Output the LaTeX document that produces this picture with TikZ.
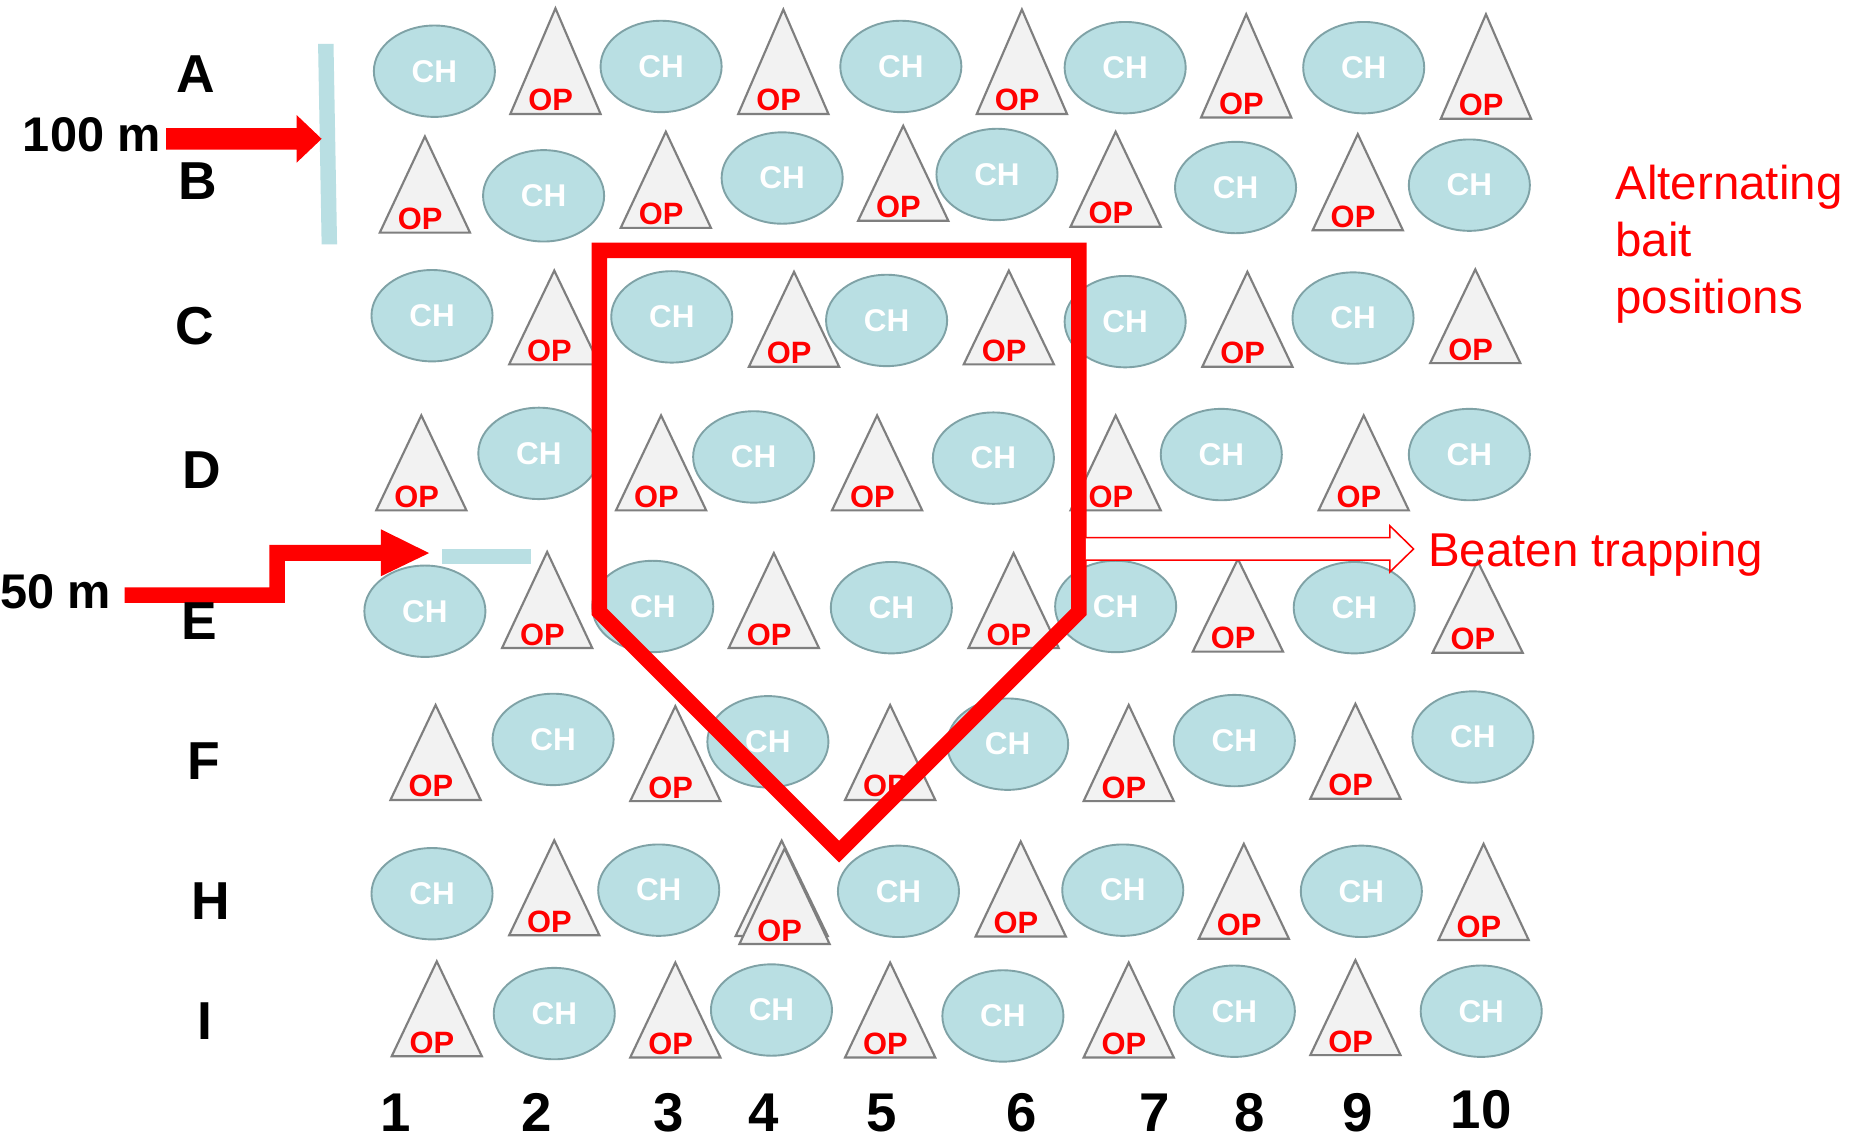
\documentclass[tikz,border=0pt]{standalone}
\usepackage{fontspec}
\setmainfont{Liberation Sans}
\usetikzlibrary{shapes.geometric}

\definecolor{chfill}{HTML}{B9DFE3}
\definecolor{chline}{HTML}{7FA2A6}
\definecolor{opfill}{HTML}{F2F2F2}
\definecolor{opline}{HTML}{7F7F7F}
\definecolor{trapred}{HTML}{FF0000}

\newcommand{\chfont}{\fontsize{26.5}{30}\selectfont\bfseries}
\newcommand{\opfont}{\fontsize{26}{28}\selectfont\bfseries}
\newcommand{\labfont}{\fontsize{45}{50}\selectfont\bfseries}
\newcommand{\numfont}{\fontsize{46}{50}\selectfont\bfseries}
\newcommand{\distfont}{\fontsize{41}{46}\selectfont\bfseries}
\newcommand{\notefont}{\fontsize{40}{48}\selectfont}

\tikzset{
  chbait/.style={ellipse, draw=chline, fill=chfill, line width=1.6pt,
    minimum width=102pt, minimum height=77pt, inner sep=0pt,
    text=white, font=\chfont},
  optri/.style={draw=opline, fill=opfill, line width=1.8pt, line join=miter},
  oplabel/.style={text=trapred, font=\opfont, anchor=base, inner sep=0pt},
  rowlab/.style={font=\labfont, text=black, anchor=base, inner sep=0pt},
  collab/.style={font=\numfont, text=black, anchor=base, inner sep=0pt},
  distlab/.style={font=\distfont, text=black, anchor=base, inner sep=0pt},
  note/.style={font=\notefont, text=trapred, anchor=base west, inner sep=0pt},
  trapline/.style={draw=trapred, line width=13pt, line join=miter},
  bar/.style={fill=chfill},
  bigarrow/.style={fill=trapred},
  hollowarrow/.style={draw=trapred, fill=white, line width=1.3pt, line join=miter}
}

% CH bait: ellipse centred at (x,y)
\newcommand{\CHbait}[3]{\node[chbait] (#1) at (#2,#3) {CH};}
% OP bait: triangle with apex x, apex y, base y; label sits on the base
\newcommand{\OPbait}[4]{%
  \draw[optri] (#2,#3) -- (#2+38,#4) -- (#2-38,#4) -- cycle;
  \node[oplabel] (#1) at (#2-4,#4-2.5) {OP};}

\begin{document}
\begin{tikzpicture}[x=1pt, y=-1pt]
\fill[white] (0,0) rectangle (1568,957);
\useasboundingbox (0,0) rectangle (1568,957);

% row A
\CHbait{chA1}{366}{60}
\OPbait{opA2}{468}{7}{96}
\CHbait{chA3}{557}{56}
\OPbait{opA4}{660}{8}{96}
\CHbait{chA5}{759}{56}
\OPbait{opA6}{861}{8}{96}
\CHbait{chA7}{948}{57}
\OPbait{opA8}{1050}{12}{99}
\CHbait{chA9}{1149}{57}
\OPbait{opA10}{1252}{12}{100}

% row B
\OPbait{opB1}{358}{115}{196}
\CHbait{chB2}{458}{165}
\OPbait{opB3}{561}{111}{192}
\CHbait{chB4}{659}{150}
\OPbait{opB5}{761}{106}{186}
\CHbait{chB6}{840}{147}
\OPbait{opB7}{940}{111}{191}
\CHbait{chB8}{1041}{158}
\OPbait{opB9}{1144}{113}{194}
\CHbait{chB10}{1238}{156}

% row C
\CHbait{chC1}{364}{266}
\OPbait{opC2}{467}{228}{307}
\CHbait{chC3}{566}{267}
\OPbait{opC4}{669}{229}{309}
\CHbait{chC5}{747}{270}
\OPbait{opC6}{850}{228}{307}
\CHbait{chC7}{948}{271}
\OPbait{opC8}{1051}{229}{309}
\CHbait{chC9}{1140}{268}
\OPbait{opC10}{1243}{227}{306}

% row D
\OPbait{opD1}{355}{350}{430}
\CHbait{chD2}{454}{382}
\OPbait{opD3}{557}{350}{430}
\CHbait{chD4}{635}{385}
\OPbait{opD5}{739}{350}{430}
\CHbait{chD6}{837}{386}
\OPbait{opD7}{940}{350}{430}
\CHbait{chD8}{1029}{383}
\OPbait{opD9}{1149}{350}{430}
\CHbait{chD10}{1238}{383}

% row E
\CHbait{chE1}{358}{515}
\OPbait{opE2}{461}{465}{546}
\CHbait{chE3}{550}{511}
\OPbait{opE4}{652}{466}{546}
\CHbait{chE5}{751}{512}
\OPbait{opE6}{854}{466}{546}
\CHbait{chE7}{940}{511}
\OPbait{opE8}{1043}{471}{549}
\CHbait{chE9}{1141}{512}
\OPbait{opE10}{1245}{473}{550}

% row F
\OPbait{opF1}{367}{594}{674}
\CHbait{chF2}{466}{623}
\OPbait{opF3}{569}{595}{675}
\CHbait{chF4}{647}{625}
\OPbait{opF5}{750}{594}{674}
\CHbait{chF6}{849}{627}
\OPbait{opF7}{951}{594}{675}
\CHbait{chF8}{1040}{624}
\OPbait{opF9}{1142}{593}{673}
\CHbait{chF10}{1241}{621}

% row H
\CHbait{chH1}{364}{753}
\OPbait{opH2}{467}{708}{788}
\CHbait{chH3}{555}{750}
\draw[optri] (658.6,708.3) -- (697.4,788.6) -- (619.8,788.6) -- cycle;
\OPbait{opH4}{661}{715}{795.4}
\CHbait{chH5}{757}{751}
\OPbait{opH6}{860}{709}{789}
\CHbait{chH7}{946}{750}
\OPbait{opH8}{1048}{711}{791}
\CHbait{chH9}{1147}{751}
\OPbait{opH10}{1250}{711}{792}

% row I
\OPbait{opI1}{368}{810}{890}
\CHbait{chI2}{467}{854}
\OPbait{opI3}{569}{811}{891}
\CHbait{chI4}{650}{851}
\OPbait{opI5}{750}{811}{891}
\CHbait{chI6}{845}{856}
\OPbait{opI7}{951}{811}{891}
\CHbait{chI8}{1040}{852}
\OPbait{opI9}{1142}{809}{889}
\CHbait{chI10}{1248}{852}

% beaten trapping area
\draw[trapline] (505,211) -- (909,211) -- (909,515.5) -- (707,717.5) -- (505,515.5) -- cycle;
\draw[hollowarrow] (915,453) -- (1171,453) -- (1171,443) -- (1191,462.5)
  -- (1171,482) -- (1171,472) -- (915,472);
\node[note] (beaten) at (1203,477.5) {Beaten trapping};

% alternating positions note
\node[note] (alt1) at (1361,168) {Alternating};
\node[note] (alt2) at (1361,216) {bait};
\node[note] (alt3) at (1361,264) {positions};

% distance markers
\fill[bar] (268,37) -- (281,37) -- (284,206) -- (271,206) -- cycle;
\node[distlab] (d100) at (77.5,128) {100 m};
\fill[bigarrow] (140,108) -- (250,108) -- (250,97) -- (271,117) -- (250,137)
  -- (250,126) -- (140,126) -- cycle;

\fill[bar] (372.5,462.5) rectangle (447.5,475);
\node[distlab] (d50) at (47,513) {50 m};
\fill[bigarrow] (105,495) -- (227,495) -- (227,459) -- (321,459) -- (321,446)
  -- (361.5,466) -- (321,485.5) -- (321,472.5) -- (240,472.5) -- (240,508)
  -- (105,508) -- cycle;

% row labels
\node[rowlab] (rA) at (165,78) {A};
\node[rowlab] (rB) at (167,168.5) {B};
\node[rowlab] (rC) at (164.5,290) {C};
\node[rowlab] (rD) at (170,412) {D};
\node[rowlab] (rE) at (168,539) {E};
\node[rowlab] (rF) at (172,657) {F};
\node[rowlab] (rH) at (177.5,775) {H};
\node[rowlab] (rI) at (173,876) {I};

% column labels
\node[collab] (c1) at (333,953.5) {1};
\node[collab] (c2) at (452,953.5) {2};
\node[collab] (c3) at (563.5,953.5) {3};
\node[collab] (c4) at (643.5,953.5) {4};
\node[collab] (c5) at (743,953.5) {5};
\node[collab] (c6) at (861,953.5) {6};
\node[collab] (c7) at (972.5,953.5) {7};
\node[collab] (c8) at (1053,953.5) {8};
\node[collab] (c9) at (1144,953.5) {9};
\node[collab] (c10) at (1248,951) {10};
\end{tikzpicture}
\end{document}
